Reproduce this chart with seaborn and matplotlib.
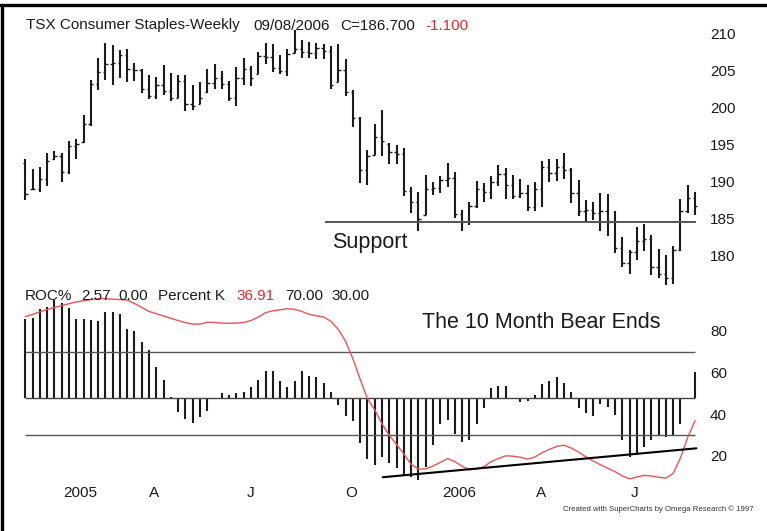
import matplotlib

matplotlib.use("Agg")
import matplotlib.pyplot as plt
import numpy as np
import seaborn as sns
from matplotlib.lines import Line2D

# weekly bars, late 2004 to 09/08/2006 (93 weeks)
highs = [
    193.1, 191.7, 192.0, 193.8, 194.1, 193.8, 195.5, 195.8, 199.0, 203.7,
    206.6, 208.6, 208.4, 207.7, 207.9, 205.9, 205.2, 204.3, 204.1, 205.7,
    204.6, 204.3, 204.3, 203.0, 203.4, 205.1, 205.8, 204.9, 203.6, 205.4,
    206.6, 205.6, 207.4, 208.7, 208.5, 207.1, 207.8, 210.4, 209.1, 208.8,
    208.6, 208.5, 208.2, 208.5, 206.5, 202.3, 198.7, 194.3, 197.8, 199.6,
    195.2, 194.9, 194.5, 189.3, 188.6, 190.9, 190.0, 190.8, 192.5, 191.3,
    186.2, 187.2, 190.1, 189.8, 190.8, 192.2, 191.8, 190.9, 190.4, 189.5,
    189.9, 192.8, 193.0, 193.1, 193.9, 191.8, 190.2, 187.5, 187.3, 188.5,
    188.3, 186.0, 182.5, 180.8, 183.9, 184.3, 182.8, 180.9, 180.1, 181.3,
    187.6, 189.5, 188.6,
]
lows = [
    187.5, 188.9, 188.6, 189.4, 192.9, 189.9, 191.0, 193.0, 195.2, 197.5,
    202.3, 203.7, 203.0, 203.9, 203.4, 203.5, 201.9, 201.1, 201.1, 201.7,
    200.8, 201.2, 199.5, 199.6, 200.4, 201.9, 202.5, 202.5, 200.9, 200.2,
    203.0, 202.9, 204.5, 205.8, 204.7, 204.5, 204.2, 207.3, 206.6, 206.6,
    206.5, 206.5, 202.5, 203.4, 201.5, 197.4, 189.8, 189.5, 193.6, 193.4,
    192.4, 192.4, 188.0, 185.8, 183.4, 185.5, 188.2, 188.4, 189.3, 185.1,
    183.3, 184.2, 186.5, 187.2, 187.6, 189.4, 187.6, 187.6, 187.8, 186.1,
    186.1, 186.6, 190.0, 190.1, 190.3, 187.1, 185.4, 184.6, 184.8, 183.4,
    182.7, 180.4, 178.5, 177.6, 179.5, 180.6, 177.4, 177.0, 176.1, 176.2,
    180.6, 185.8, 185.5,
]
opens = [
    192.5, 189.0, 189.0, 190.3, 193.0, 193.5, 191.3, 194.8, 195.3, 197.8,
    203.2, 204.7, 205.8, 206.0, 207.0, 205.2, 205.0, 202.5, 201.5, 203.0,
    202.2, 201.3, 203.6, 200.5, 200.5, 202.0, 203.3, 204.0, 203.2, 201.3,
    204.0, 205.2, 204.5, 206.9, 206.8, 205.3, 204.9, 207.3, 207.8, 207.4,
    207.3, 208.0, 207.6, 203.4, 205.0, 202.0, 198.5, 191.5, 193.6, 196.0,
    195.0, 194.0, 193.7, 188.8, 187.3, 185.5, 189.0, 189.2, 190.2, 190.5,
    185.6, 184.6, 186.7, 189.0, 188.6, 190.0, 191.0, 189.5, 188.0, 188.5,
    186.6, 189.0, 192.0, 191.2, 192.0, 191.5, 188.5, 186.0, 186.2, 185.8,
    186.0, 184.5, 181.0, 179.0, 180.5, 182.0, 182.3, 178.5, 177.5, 177.0,
    180.8, 186.0, 187.8,
]
closes = [
    188.3, 189.0, 190.3, 192.8, 193.5, 191.3, 194.8, 195.0, 197.8, 203.2,
    204.7, 205.8, 206.0, 207.0, 205.2, 205.0, 202.5, 201.5, 203.0, 202.2,
    201.3, 203.6, 200.5, 200.2, 201.2, 203.3, 204.0, 203.2, 201.3, 204.0,
    205.2, 204.0, 206.9, 206.8, 205.3, 204.9, 207.2, 207.8, 207.4, 207.3,
    208.0, 207.6, 203.0, 205.0, 202.0, 198.5, 191.5, 193.5, 196.0, 195.5,
    194.0, 193.7, 188.8, 187.3, 185.0, 189.0, 189.2, 190.2, 190.5, 185.6,
    184.6, 186.7, 189.0, 188.6, 190.0, 191.0, 189.5, 188.0, 188.5, 186.6,
    189.0, 192.0, 191.2, 192.0, 191.5, 188.5, 186.0, 186.2, 185.8, 186.0,
    184.5, 181.0, 179.0, 180.5, 182.0, 182.3, 178.5, 177.5, 177.0, 180.8,
    186.0, 187.8, 186.7,
]
roc_pct = [
    7.63, 7.73, 8.63, 8.79, 9.50, 9.24, 8.70, 7.63, 7.63, 7.57,
    7.47, 8.37, 8.31, 8.14, 6.67, 6.53, 5.47, 4.67, 3.00, 1.77,
    0.10, -1.29, -1.97, -2.42, -1.84, -1.20, 0.00, 0.54, 0.32, 0.48,
    0.64, 1.06, 1.77, 2.64, 2.64, 1.70, 1.12, 1.70, 2.64, 2.19,
    2.09, 1.51, 0.58, -0.65, -1.70, -2.20, -4.32, -5.85, -6.42, -5.64,
    -6.30, -6.76, -7.41, -7.57, -7.89, -6.60, -4.48, -2.45, -2.06, -3.45,
    -4.19, -4.03, -2.45, -0.97, 0.97, 1.15, 1.19, 0.05, -0.35, -0.30,
    0.27, 1.35, 1.68, 2.09, 1.45, 0.56, -0.97, -1.45, -1.71, -0.56,
    -0.80, -1.61, -4.03, -5.72, -5.52, -4.75, -4.03, -3.68, -3.71, -3.58,
    -2.45, 0.00, 2.57,
]
percent_k = [
    86.9, 88.0, 89.2, 90.3, 91.3, 92.2, 93.1, 94.0, 94.5, 95.1,
    95.5, 95.5, 95.3, 95.1, 94.9, 93.2, 91.3, 89.4, 88.3, 87.2,
    86.1, 85.0, 84.0, 83.3, 83.3, 84.2, 84.1, 83.8, 83.7, 83.8,
    84.1, 85.0, 86.7, 88.8, 89.7, 90.2, 90.7, 90.4, 89.4, 88.0,
    87.3, 86.7, 84.6, 80.7, 75.0, 66.7, 56.8, 47.5, 42.1, 35.4,
    29.8, 25.4, 20.9, 15.9, 13.6, 13.7, 15.1, 16.8, 18.7, 17.2,
    15.0, 13.3, 13.7, 14.8, 17.2, 18.7, 20.0, 19.8, 19.3, 18.4,
    19.4, 21.5, 23.1, 24.5, 25.1, 23.7, 21.8, 19.5, 17.5, 15.7,
    14.0, 12.4, 10.3, 8.9, 9.8, 10.6, 10.3, 9.7, 9.3, 11.5,
    19.0, 28.9, 36.9,
]

tick_pos = [7.5, 17.7, 30.9, 44.8, 59.6, 70.8, 83.7]
tick_labels = ["2005", "A", "J", "O", "2006", "A", "J"]
price_ticks = [180, 185, 190, 195, 200, 205, 210]
k_ticks = [20, 40, 60, 80]
k_levels = [70, 30]
support_level = 184.6
support_span = [41.2, 92.2]
trend_x = [49.1, 92.2]
trend_k = [9.7, 23.6]

W, H = 767, 531
INK = "#1b1b1b"
RED = "#dd2a30"
LINE_RED = "#e6555a"

sns.set_style("white")
plt.rcParams["font.family"] = ["Liberation Sans", "DejaVu Sans"]


def fig_text(fig, x, y, s, **kw):
    # x, y in pixels from the top-left corner
    fig.text(x / W, 1 - y / H, s, **kw)


fig = plt.figure(figsize=(W / 100, H / 100), dpi=100)
x = np.arange(len(highs))

# price panel
ax = fig.add_axes([18 / W, 1 - 288 / H, 687 / W, 263 / H])
ax.vlines(x, lows, highs, color=INK, lw=1.5)
ax.hlines(opens, x - 0.32, x, color=INK, lw=1.0)
ax.hlines(closes, x, x + 0.32, color=INK, lw=1.0)
ax.hlines(support_level, *support_span, color="#555555", lw=1.4)
ax.set_xlim(-1.0, 93.37)
ax.set_ylim(175.68, 211.08)
ax.yaxis.tick_right()
ax.set_yticks(price_ticks)
ax.set_xticks([])
ax.tick_params(axis="y", length=0, pad=3.6, labelsize=11, labelcolor=INK)
sns.despine(ax=ax, left=True, bottom=True)

# indicator panel: ROC% bars and Percent K
ax_roc = fig.add_axes([18 / W, 1 - 485 / H, 687 / W, 195 / H])
ax_roc.vlines(x, 0, roc_pct, color=INK, lw=1.5)
ax_roc.hlines(0, x[0], x[-1], color="#444444", lw=1.0)
ax_roc.set_xlim(-1.0, 93.37)
ax_roc.set_ylim(-8.38, 10.46)
ax_roc.set_yticks([])
ax_roc.set_xticks(tick_pos)
ax_roc.set_xticklabels(tick_labels)
ax_roc.tick_params(axis="x", length=0, pad=0.7, labelsize=11, labelcolor=INK)
sns.despine(ax=ax_roc, left=True, bottom=True)

ax_k = ax_roc.twinx()
ax_k.hlines(k_levels, x[0], x[-1], color="#555555", lw=1.0)
sns.lineplot(x=x, y=percent_k, ax=ax_k, color=LINE_RED, lw=1.0)
ax_k.plot(trend_x, trend_k, color="black", lw=1.5)
ax_k.set_ylim(5.96, 99.71)
ax_k.set_yticks(k_ticks)
ax_k.tick_params(axis="y", length=0, pad=3.6, labelsize=11, labelcolor=INK)
for sp in ax_k.spines.values():
    sp.set_visible(False)

# header texts
fig_text(fig, 25.5, 29.5, "TSX Consumer Staples-Weekly", fontsize=11, color=INK)
fig_text(fig, 253, 29.5, "09/08/2006", fontsize=11, color=INK)
fig_text(fig, 340, 29.5, "C=186.700", fontsize=11, color=INK)
fig_text(fig, 425, 29.5, "-1.100", fontsize=11, color=RED)

fig_text(fig, 25, 300, "ROC%", fontsize=11, color=INK)
fig_text(fig, 81, 300, "2.57", fontsize=11, color=INK)
fig_text(fig, 118, 300, "0.00", fontsize=11, color=INK)
fig_text(fig, 158, 300, "Percent K", fontsize=11, color=INK)
fig_text(fig, 236, 300, "36.91", fontsize=11, color=RED)
fig_text(fig, 285, 300, "70.00", fontsize=11, color=INK)
fig_text(fig, 331, 300, "30.00", fontsize=11, color=INK)

fig_text(fig, 332, 248, "Support", fontsize=15.5, color=INK)
fig_text(fig, 421.5, 328.3, "The 10 Month Bear Ends", fontsize=15.5, color=INK)
fig_text(fig, 563, 509, "Created with SuperCharts by Omega Research \u00a9 1997",
         fontsize=5.6, color="#333333", va="center")

# frame of the screenshot (left and top edges)
fig.add_artist(Line2D([1.7 / W, 1.7 / W], [0, 1 - 5 / H], transform=fig.transFigure,
                      color="black", lw=2.4))
fig.add_artist(Line2D([0, 1], [1 - 5 / H, 1 - 5 / H], transform=fig.transFigure,
                      color="black", lw=2.4))

fig.savefig("out.png", dpi=100)
plt.close(fig)
